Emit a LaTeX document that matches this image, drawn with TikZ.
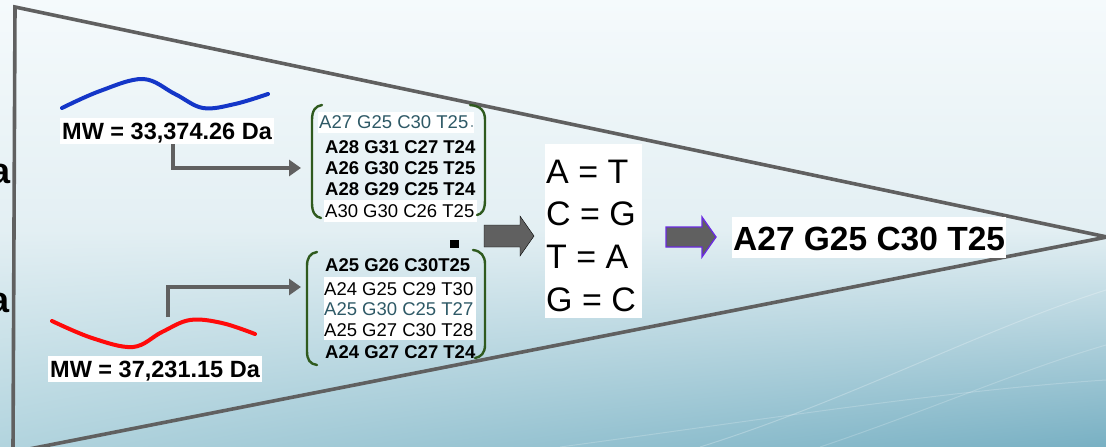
\documentclass[tikz,border=0pt]{standalone}
\usepackage{fontspec}
\setmainfont{Liberation Sans}
\usetikzlibrary{arrows.meta,shadings}
\definecolor{linegray}{HTML}{606060}
\definecolor{teal2}{HTML}{2E5966}
\definecolor{brgreen}{HTML}{2F5A1E}
\definecolor{curveblue}{HTML}{1436C8}
\definecolor{curvered}{HTML}{FF0A0A}
\definecolor{arrowpurple}{HTML}{6B2BE0}
\definecolor{bgtop}{HTML}{F5FAFC}
\definecolor{bgmid}{HTML}{E3EFF3}
\definecolor{bgbl}{HTML}{B2D4DE}
\definecolor{bgbr}{HTML}{78B0C3}
\tikzset{
  outline/.style={draw=linegray, line width=3.6pt, line join=miter},
  elbow/.style={draw=linegray, line width=4.5pt, -{Triangle[length=12pt,width=16pt]}},
  bracket/.style={draw=brgreen, line width=2.4pt, line cap=round},
  blockarrow/.style={fill=linegray},
  seqb/.style={anchor=base west, inner sep=0pt, font=\fontsize{18.5}{20}\selectfont\bfseries},
  seqr/.style={anchor=base west, inner sep=0pt, font=\fontsize{18.5}{20}\selectfont},
  mwlabel/.style={anchor=base west, fill=white, inner xsep=2pt, inner ysep=2pt, text height=19pt, text depth=3pt, font=\fontsize{23.5}{25}\selectfont\bfseries},
  eqline/.style={anchor=base west, inner sep=0pt, font=\fontsize{34}{36}\selectfont},
  cutletter/.style={anchor=base east, inner sep=0pt, font=\fontsize{36}{38}\selectfont\bfseries},
}
\begin{document}
\begin{tikzpicture}[x=1pt,y=-1pt]
\useasboundingbox (0,0) rectangle (1106,447);
\clip (0,0) rectangle (1106,447);
% background
\shade[top color=bgtop, bottom color=bgmid] (0,0) rectangle (1106,230);
\shade[upper left=bgmid, upper right=bgmid, lower left=bgbl, lower right=bgbr] (0,229.5) rectangle (1106,447);
\draw[white, opacity=0.25, line width=1pt] (700,447) .. controls (850,400) and (980,330) .. (1106,290);
\draw[white, opacity=0.2, line width=1pt] (820,447) .. controls (930,410) and (1020,370) .. (1106,345);
\draw[white, opacity=0.2, line width=1pt] (560,447) .. controls (760,420) and (950,390) .. (1106,380);
% triangle outline
\coordinate (tl) at (15,7);
\coordinate (apex) at (1107,237);
\coordinate (bl) at (19,451);
\coordinate (lb) at (13,450);
\draw[outline] (lb) -- (tl) -- (apex) -- (bl);
% cut-off letters at the left edge
\node[cutletter] (cut1) at (11,183) {a};
\node[cutletter] (cut2) at (10,312) {a};
% curves
\draw[curveblue, line width=4pt, line cap=round] plot[smooth, tension=0.6] coordinates {(62,108) (100,91) (143,79) (175,94) (203,108) (235,104) (268,94)};
\draw[curvered, line width=4pt, line cap=round] plot[smooth, tension=0.6] coordinates {(52,321) (92,338) (133,347) (162,332) (190,320) (222,323) (255,334)};
% MW labels
\node[mwlabel] (mw1) at (60,139) {MW = 33,374.26 Da};
\node[mwlabel] (mw2) at (48,377) {MW = 37,231.15 Da};
% elbow connectors
\coordinate (mw1out) at (173,144);
\coordinate (g1in) at (301,168);
\coordinate (mw2out) at (168,317);
\coordinate (g2in) at (301,287);
\draw[elbow] (mw1out) |- (g1in);
\draw[elbow] (mw2out) |- (g2in);
% group 1
\fill[white] (318,112) rectangle (474,133);
\fill[white] (324,200) rectangle (477,222);
\node[seqr, text=teal2] (s11) at (319,128) {A27 G25 C30 T25};
\fill[teal2] (472,126) circle (0.9pt);
\node[seqb] (s12) at (325,153) {A28 G31 C27 T24};
\node[seqb] (s13) at (325,174) {A26 G30 C25 T25};
\node[seqb] (s14) at (325,195) {A28 G29 C25 T24};
\node[seqr] (s15) at (325,217) {A30 G30 C26 T25};
\draw[bracket] (322,105) .. controls (315,106) and (312,111) .. (312,120) -- (312,203) .. controls (312,212) and (315,217) .. (321,218);
\draw[bracket] (470,105) .. controls (481,106) and (485,111) .. (485,120) -- (485,200) .. controls (485,210) and (482,214) .. (477,215);
% group 2
\fill[white] (324,277) rectangle (476,340);
\node[seqb] (s21) at (325,271) {A25 G26 C30T25};
\node[seqr] (s22) at (324,295) {A24 G25 C29 T30};
\node[seqr, text=teal2] (s23) at (324,315) {A25 G30 C25 T27};
\node[seqr] (s24) at (324,336) {A25 G27 C30 T28};
\node[seqb] (s25) at (325,358) {A24 G27 C27 T24};
\draw[bracket] (317,252) .. controls (310,253) and (307,258) .. (307,266) -- (307,351) .. controls (307,360) and (310,364) .. (317,365);
\draw[bracket] (473,250) .. controls (481,251) and (485,256) .. (485,264) -- (485,345) .. controls (485,353) and (481,357) .. (475,358);
\fill[black] (450,240) rectangle (459,248);
% block arrow 1
\draw[blockarrow] (484,225) -- (520,225) -- (520,216) -- (534,236) -- (520,256) -- (520,247) -- (484,247) -- cycle;
% equations
\fill[white] (545,144) rectangle (642,318);
\node[eqline] (e1) at (546,183) {A = T};
\node[eqline] (e2) at (546,225) {C = G};
\node[eqline] (e3) at (546,268) {T = A};
\node[eqline] (e4) at (546,311) {G = C};
% block arrow 2
\draw[blockarrow, draw=arrowpurple, line width=1.3pt] (666,227) -- (702,227) -- (702,217) -- (716,237) -- (702,257) -- (702,247) -- (666,247) -- cycle;
% result
\node[anchor=base west, fill=white, inner xsep=1pt, inner ysep=0pt, text height=33pt, text depth=8pt, font=\fontsize{33.5}{36}\selectfont\bfseries] (res) at (732,250) {A27 G25 C30 T25};
\end{tikzpicture}
\end{document}
